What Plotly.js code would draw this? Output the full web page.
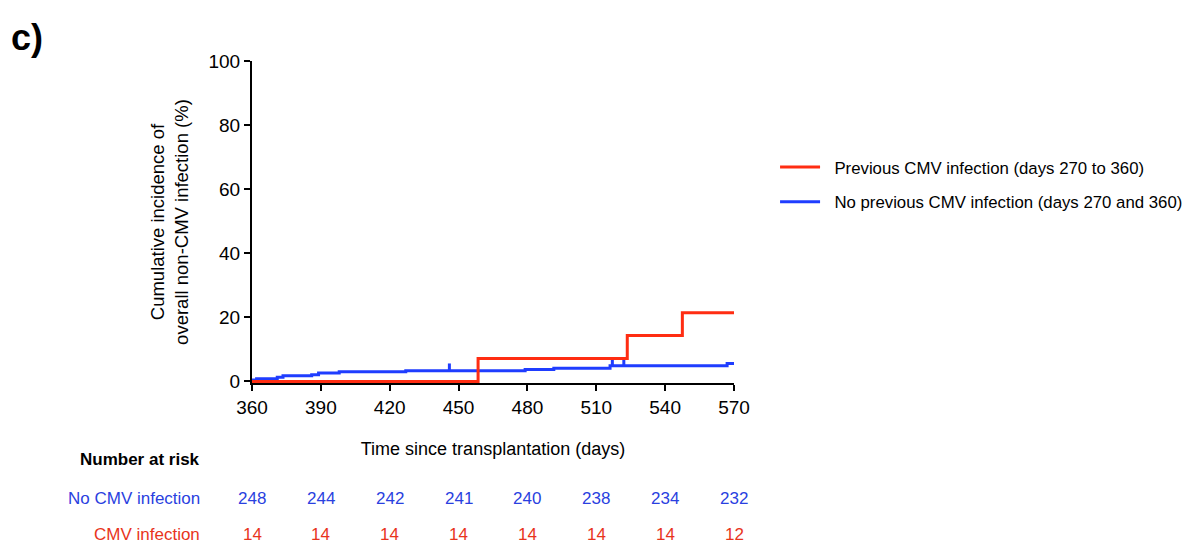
<!DOCTYPE html>
<html>
<head>
<meta charset="utf-8">
<script src="https://cdn.plot.ly/plotly-3.0.1.min.js"></script>
<style>html,body{margin:0;padding:0;background:#fff;}#chart{width:1197px;height:544px;}</style>
</head>
<body>
<div id="chart"></div>
<script>
// ---- data ----
var noCmvDays   = [360, 362, 371, 373.5, 386, 389, 398, 427, 479, 491.5, 516, 567, 570];
var noCmvPct    = [0.4, 0.8, 1.3, 1.8, 2.1, 2.6, 3.0, 3.3, 3.7, 4.1, 4.9, 5.6, 5.6];
var noCmvCensorDays = [446, 517, 522];
var noCmvCensorPct  = [3.3, 4.9, 4.9];
var censorTickLen   = [2.3, 2.0, 2.0];
var censorTickBase  = [0, 0, 0];

var cmvDays = [360, 458.5, 523.5, 547.5, 570];
var cmvPct  = [0, 7.14, 14.29, 21.43, 21.43];

var riskDays   = [360, 390, 420, 450, 480, 510, 540, 570];
var riskNoCmv  = [248, 244, 242, 241, 240, 238, 234, 232];
var riskCmv    = [14, 14, 14, 14, 14, 14, 14, 12];

var seriesNames = ['Previous CMV infection (days 270 to 360)', 'No previous CMV infection (days 270 and 360)'];
var riskLabels  = ['No CMV infection', 'CMV infection'];
var riskTitle   = 'Number at risk';

var BLUE = '#1f3dff', RED = '#ff2d12';
var BLUE_T = '#2a3fe0', RED_T = '#e8341c';
var FONT = 'Liberation Sans, Arial, sans-serif';
var GAP = '&nbsp;&nbsp;';

var traces = [
  {x: noCmvDays, y: noCmvPct, mode: 'lines', line: {color: BLUE, width: 3, shape: 'hv'}, showlegend: false, hoverinfo: 'skip'},
  {x: noCmvCensorDays, y: noCmvCensorPct, mode: 'markers', marker: {size: 1, color: 'rgba(0,0,0,0)'},
   error_y: {type: 'data', symmetric: false, array: censorTickLen, arrayminus: censorTickBase, width: 0, thickness: 3, color: BLUE},
   showlegend: false, hoverinfo: 'skip'},
  {x: cmvDays, y: cmvPct, mode: 'lines', line: {color: RED, width: 3, shape: 'hv'}, showlegend: false, hoverinfo: 'skip'},
  // legend entries
  {x: [null], y: [null], mode: 'lines', name: GAP + seriesNames[0], legendgroup: 'a', line: {color: RED, width: 3}},
  {x: [null], y: [null], mode: 'lines', name: GAP + seriesNames[1], legendgroup: 'b', line: {color: BLUE, width: 3}}
];

var ann = [
  {text: '<b>c)</b>', xref: 'paper', yref: 'paper', x: -0.505, y: 1.0745, xanchor: 'left', yanchor: 'middle', showarrow: false, font: {family: FONT, size: 36, color: '#000'}},
  {text: '<b>' + riskTitle + '</b>', xref: 'paper', yref: 'paper', x: -0.1037, y: -0.239, xanchor: 'right', yanchor: 'middle', showarrow: false, font: {family: FONT, size: 17, color: '#000'}},
  {text: riskLabels[0], xref: 'paper', yref: 'paper', x: -0.1037, y: -0.360, xanchor: 'right', yanchor: 'middle', showarrow: false, font: {family: FONT, size: 17, color: BLUE_T}},
  {text: riskLabels[1], xref: 'paper', yref: 'paper', x: -0.1037, y: -0.469, xanchor: 'right', yanchor: 'middle', showarrow: false, font: {family: FONT, size: 17, color: RED_T}}
];
for (var i = 0; i < riskDays.length; i++) {
  ann.push({text: String(riskNoCmv[i]), xref: 'x', yref: 'paper', x: riskDays[i], y: -0.360, xanchor: 'center', yanchor: 'middle', showarrow: false, font: {family: FONT, size: 17, color: BLUE_T}});
  ann.push({text: String(riskCmv[i]), xref: 'x', yref: 'paper', x: riskDays[i], y: -0.469, xanchor: 'center', yanchor: 'middle', showarrow: false, font: {family: FONT, size: 17, color: RED_T}});
}

var layout = {
  width: 1197, height: 544,
  margin: {l: 252, r: 463, t: 61, b: 161},
  paper_bgcolor: '#fff', plot_bgcolor: '#fff',
  font: {family: FONT, size: 18, color: '#000'},
  xaxis: {
    range: [360, 570], tickvals: riskDays, ticks: 'outside', ticklen: 6, tickwidth: 2, tickcolor: '#000',
    showline: true, linecolor: '#000', linewidth: 2, showgrid: false, zeroline: false,
    tickfont: {family: FONT, size: 19, color: '#000'},
    title: {text: 'Time since transplantation (days)', font: {family: FONT, size: 18, color: '#000'}, standoff: 26}
  },
  yaxis: {
    range: [-0.5, 100], tickvals: [0, 20, 40, 60, 80, 100], ticks: 'outside', ticklen: 6, tickwidth: 2, tickcolor: '#000',
    showline: true, linecolor: '#000', linewidth: 2, showgrid: false, zeroline: false,
    tickfont: {family: FONT, size: 19, color: '#000'},
    title: {text: 'Cumulative incidence of<br>overall non-CMV infection (%)', font: {family: FONT, size: 18.5, color: '#000'}, standoff: 15}
  },
  legend: {xref: 'container', yref: 'paper', x: 0.6475, y: 0.725, xanchor: 'left', yanchor: 'top', bgcolor: 'rgba(0,0,0,0)', borderwidth: 0, tracegroupgap: 10, itemwidth: 40,
           font: {family: FONT, size: 16.8, color: '#000'}},
  annotations: ann
};

Plotly.newPlot('chart', traces, layout, {displayModeBar: false, staticPlot: true});
</script>
</body>
</html>
